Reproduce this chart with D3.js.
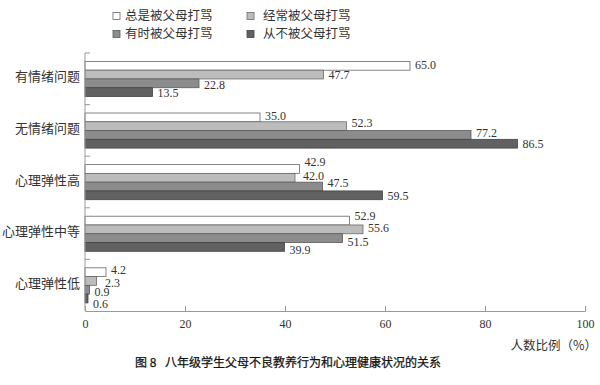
<!DOCTYPE html>
<html lang="zh">
  <head>
    <meta charset="utf-8">
    <script src="https://d3js.org/d3.v7.min.js"></script>
    <style>
      body { margin: 0; background: #fff; }
      .num { font-family: "Liberation Serif", "Times New Roman", serif; font-size: 12px; fill: #333; }
      .cjk { font-family: "Noto Sans CJK SC", sans-serif; fill: #333; }
    </style>
  </head>
  <body>
    <svg width="600" height="385"></svg>
    <script>
      // data
      var categories = ["有情绪问题", "无情绪问题", "心理弹性高", "心理弹性中等", "心理弹性低"];
      var seriesNames = ["总是被父母打骂", "经常被父母打骂", "有时被父母打骂", "从不被父母打骂"];
      var always    = [65.0, 35.0, 42.9, 52.9, 4.2];
      var often     = [47.7, 52.3, 42.0, 55.6, 2.3];
      var sometimes = [22.8, 77.2, 47.5, 51.5, 0.9];
      var never     = [13.5, 86.5, 59.5, 39.9, 0.6];
      var xTicks = [0, 20, 40, 60, 80, 100];
      var seriesValues = [always, often, sometimes, never];

      var colors = ["#ffffff", "#bcbcbc", "#8c8c8c", "#616161"];
      var strokes = ["#666", "#6a6a6a", "#5a5a5a", "#444"];

      // small hand nudges for the value labels (as in the printed figure)
      var labelDy = [[-1, 0, 1, 1], [-2, -3, -2, 0], [-7, -2, -4, 0], [-5, -2, 3.5, 3], [-2, 1.5, 2.5, 5.5]];
      var labelDx = [[0, 0, 0, 0], [0, 0, 0, 0], [0, 3, 0, 0], [0, 0, 0, 0], [0, 3.5, 0, 0]];

      var svg = d3.select("svg");

      var x = d3.scaleLinear().domain([0, 100]).range([85, 585]);
      var y0 = d3.scaleBand().domain(categories).range([53, 311]);
      var bw = y0.bandwidth();
      var y1 = d3.scaleBand().domain(seriesNames).range([bw * 0.163, bw * 0.843]);

      // rows: one per category x series
      var rows = [];
      categories.forEach(function(c, i) {
        seriesNames.forEach(function(s, j) {
          rows.push({cat: c, ser: s, ci: i, si: j, v: seriesValues[j][i]});
        });
      });

      // bars
      svg.append("g")
        .selectAll("rect")
        .data(rows)
        .enter().append("rect")
          .attr("x", x(0))
          .attr("y", function(d) { return y0(d.cat) + y1(d.ser); })
          .attr("width", function(d) { return x(d.v) - x(0); })
          .attr("height", y1.bandwidth())
          .attr("fill", function(d) { return colors[d.si]; })
          .attr("stroke", function(d) { return strokes[d.si]; })
          .attr("stroke-width", 0.8);

      // value labels
      svg.append("g")
        .selectAll("text")
        .data(rows)
        .enter().append("text")
          .attr("class", "num")
          .attr("x", function(d) { return x(d.v) + 5 + labelDx[d.ci][d.si]; })
          .attr("y", function(d) { return y0(d.cat) + y1(d.ser) + y1.bandwidth() / 2 + labelDy[d.ci][d.si]; })
          .attr("dy", "0.35em")
          .text(function(d) { return d.v.toFixed(1); });

      // x axis
      var xAxis = svg.append("g")
        .attr("transform", "translate(0," + 311 + ")")
        .call(d3.axisBottom(x).tickValues(xTicks).tickSize(-5).tickPadding(8).tickFormat(d3.format("d")));
      xAxis.select(".domain").attr("stroke", "#999");
      xAxis.selectAll(".tick line").attr("stroke", "#999");
      xAxis.selectAll(".tick text").attr("class", "num").style("font-size", "12px").attr("fill", "#333");

      // y axis line and band ticks
      var yAxis = svg.append("g");
      yAxis.append("line")
        .attr("x1", x(0)).attr("x2", x(0))
        .attr("y1", y0.range()[0]).attr("y2", y0.range()[1])
        .attr("stroke", "#999");
      yAxis.selectAll("line.t")
        .data(categories)
        .enter().append("line")
          .attr("class", "t")
          .attr("x1", x(0)).attr("x2", x(0) + 5)
          .attr("y1", function(d) { return y0(d); })
          .attr("y2", function(d) { return y0(d); })
          .attr("stroke", "#999");
      yAxis.selectAll("text")
        .data(categories)
        .enter().append("text")
          .attr("class", "cjk")
          .attr("x", x(0) - 5)
          .attr("y", function(d) { return y0(d) + bw / 2 - 2; })
          .attr("dy", "0.35em")
          .attr("text-anchor", "end")
          .style("font-size", "13px")
          .text(function(d) { return d; });

      // legend
      var legendPos = [[113, 16], [247, 16], [113, 34], [247, 34]];
      var legend = svg.append("g")
        .selectAll("g")
        .data(seriesNames)
        .enter().append("g")
          .attr("transform", function(d, i) { return "translate(" + legendPos[i][0] + "," + legendPos[i][1] + ")"; });
      legend.append("rect")
        .attr("x", 0).attr("y", -3.5)
        .attr("width", 7).attr("height", 7)
        .attr("fill", function(d, i) { return colors[i]; })
        .attr("stroke", function(d, i) { return strokes[i]; })
        .attr("stroke-width", 0.8);
      legend.append("text")
        .attr("class", "cjk")
        .attr("x", function(d, i) { return i % 2 === 0 ? 12 : 16; })
        .attr("dy", "0.35em")
        .style("font-size", "12.5px")
        .text(function(d) { return d; });

      // axis title
      svg.append("text")
        .attr("class", "cjk")
        .attr("x", 597)
        .attr("y", 346)
        .attr("dy", "0.35em")
        .attr("text-anchor", "end")
        .style("font-size", "12.5px")
        .text("人数比例（%）");

      // caption
      svg.append("text")
        .attr("class", "cjk")
        .attr("x", 135)
        .attr("y", 363)
        .attr("dy", "0.35em")
        .style("font-size", "12px")
        .style("fill", "#111")
        .style("stroke", "#111")
        .style("stroke-width", 0.25)
        .text("图 8\u2002 八年级学生父母不良教养行为和心理健康状况的关系");
    </script>
  </body>
</html>
